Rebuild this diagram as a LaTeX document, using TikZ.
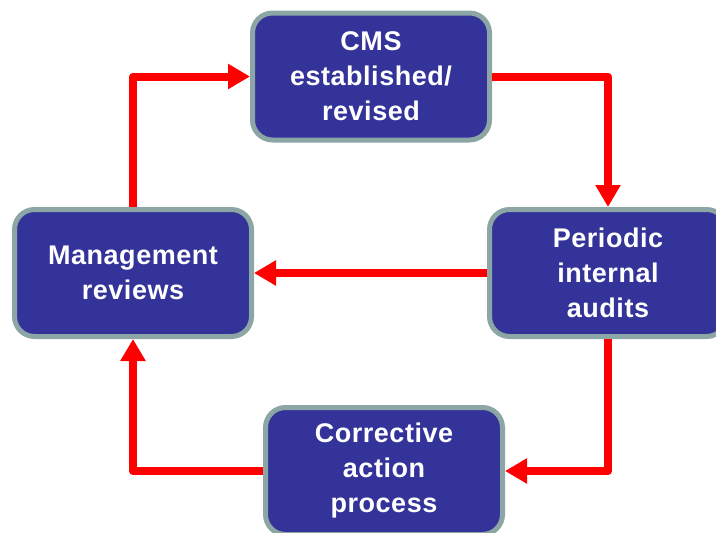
\documentclass[tikz,border=0pt]{standalone}
\usepackage{fontspec}
\newfontfamily\boxfont[LetterSpace=2]{Liberation Sans}
\usetikzlibrary{arrows.meta}
\definecolor{boxblue}{HTML}{333399}
\definecolor{boxgray}{HTML}{8CA5A5}
\definecolor{arrred}{HTML}{FF0000}
\tikzset{
  stagebox/.style={draw=boxgray, line width=5pt, fill=boxblue, rounded corners=20pt,
    minimum width=237pt, minimum height=127pt, align=center, text=white,
    font=\boxfont\bfseries\fontsize{27}{35}\selectfont, inner sep=0pt},
  flow/.style={draw=arrred, line width=8pt, line join=round,
    -{Triangle[width=24pt,length=22pt]}}
}
\begin{document}
\begin{tikzpicture}[x=1pt,y=-1pt]
\useasboundingbox (0,0) rectangle (716,533);
\clip (0,0) rectangle (716,533);
\node[stagebox] (T) at (371,76.5) {CMS\\established/\\revised};
\node[stagebox] (L) at (133,273) {Management\\reviews};
\node[stagebox] (R) at (608,273) {Periodic\\internal\\audits};
\node[stagebox] (B) at (384,471) {Corrective\\action\\process};
\draw[flow] (L.north) |- (T.west);
\draw[flow] (T.east) -| (R.north);
\draw[flow] (R.west) -- (L.east);
\draw[flow] (R.south) |- (B.east);
\draw[flow] (B.west) -| (L.south);
\end{tikzpicture}
\end{document}
